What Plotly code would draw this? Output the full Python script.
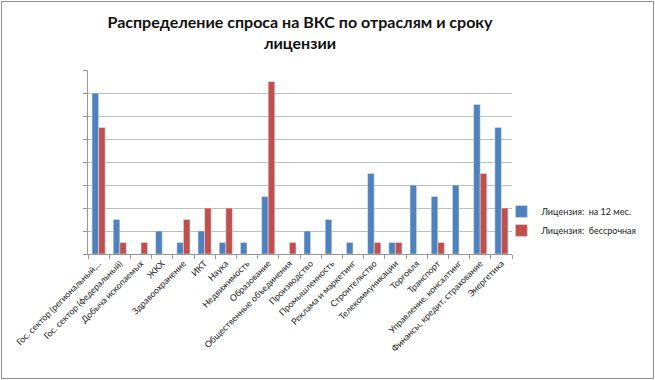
import plotly.graph_objects as go

categories = [
    "Гос. сектор (региональный,...", "Гос. сектор (федеральный)", "Добыча ископаемых", "ЖКХ",
    "Здравоохранение", "ИКТ", "Наука", "Недвижимость", "Образование",
    "Общественные объединения", "Производство", "Промышленность", "Реклама и маркетинг",
    "Строительство", "Телекоммуникации", "Торговля", "Транспорт",
    "Управление, консалтинг", "Финансы, кредит, страхование", "Энергетика",
]
lic_12 = [14, 3, 0, 2, 1, 2, 1, 1, 5, 0, 2, 3, 1, 7, 1, 6, 5, 6, 13, 11]
lic_perm = [11, 1, 1, 0, 3, 4, 4, 0, 15, 1, 0, 0, 0, 1, 1, 0, 1, 0, 7, 4]
series_names = ["Лицензия:  на 12 мес.", "Лицензия:  бессрочная"]

W, H = 655, 380
L, R, T, B = 88, 143, 70, 126
pw, ph = W - L - R, H - T - B

fig = go.Figure()
fig.add_trace(go.Bar(x=categories, y=lic_12, name=series_names[0], marker_color="#4F81BD"))
fig.add_trace(go.Bar(x=categories, y=lic_perm, name=series_names[1], marker_color="#C0504D"))

fig.update_layout(
    width=W, height=H,
    margin=dict(l=L, r=R, t=T, b=B, autoexpand=False),
    paper_bgcolor="white", plot_bgcolor="white",
    barmode="group", bargap=0.38, bargroupgap=0,
    font=dict(family="Lato, Open Sans, sans-serif", color="#222222"),
    title=dict(
        text="<b>Распределение спроса на ВКС по отраслям и сроку<br>лицензии</b>",
        x=0.5, xref="paper", xanchor="center", yref="container", y=1 - 28 / H, yanchor="top",
        font=dict(size=16, color="#111111"),
    ),
    legend=dict(
        x=0.975, y=0.18, xanchor="left", yanchor="middle",
        font=dict(size=9), itemwidth=30, tracegroupgap=4,
        bgcolor="rgba(0,0,0,0)",
    ),
    showlegend=True,
)
fig.update_xaxes(
    tickangle=-45, tickfont=dict(size=8.8), tickson="boundaries", automargin=False,
    ticks="outside", ticklen=4, tickcolor="#999999",
    showline=True, linecolor="#999999", linewidth=1, showgrid=False,
)
fig.update_yaxes(
    range=[0, 16], dtick=2, showticklabels=False, ticks="outside", ticklen=4, automargin=False,
    tickcolor="#999999", showgrid=True, gridcolor="#BFBFBF", gridwidth=1,
    showline=True, linecolor="#999999", linewidth=1, zeroline=False,
)
fig.add_shape(
    type="rect", xref="paper", yref="paper",
    x0=(-L + 1.5) / pw, x1=1 + (R - 1.5) / pw, y0=(-B + 1.5) / ph, y1=1 + (T - 1.5) / ph,
    line=dict(color="#8C8C8C", width=1), layer="below",
)
fig.write_html(
    "out.html",
    config={"displayModeBar": False},
    post_script="document.body.style.margin='0';document.body.style.overflow='hidden';",
)
